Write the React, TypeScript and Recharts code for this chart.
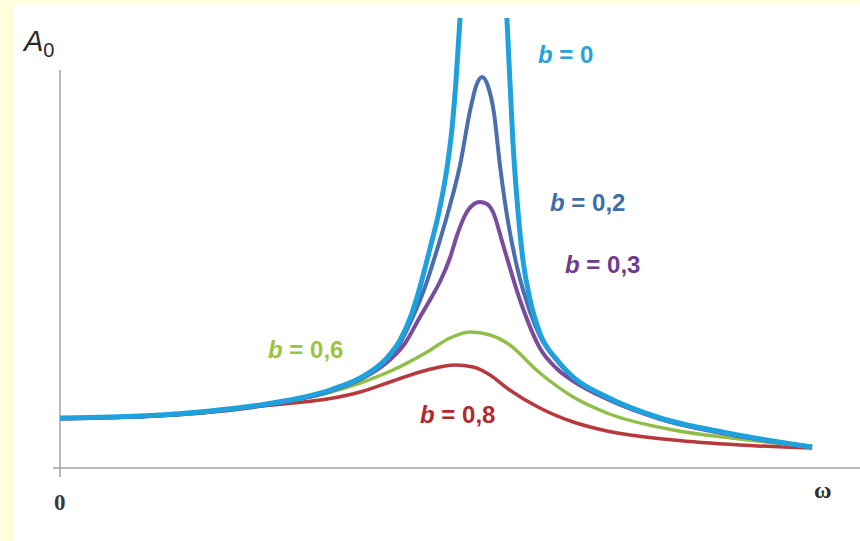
import React from 'react';
import { LineChart, Line, XAxis, YAxis, ReferenceLine } from 'recharts';

// Amplitude A0 against driving frequency ω (ω0 = 1, A0(0) = 1) for several damping values b.
type Pt = { w: number; a: number | null };

const curveB0: Pt[] = [
  { w: 0, a: 1.0 }, { w: 0.118, a: 1.02 }, { w: 0.237, a: 1.06 }, { w: 0.355, a: 1.14 },
  { w: 0.474, a: 1.26 }, { w: 0.569, a: 1.4 }, { w: 0.64, a: 1.56 }, { w: 0.711, a: 1.8 },
  { w: 0.77, a: 2.16 }, { w: 0.806, a: 2.56 }, { w: 0.834, a: 3.1 }, { w: 0.853, a: 3.62 },
  { w: 0.877, a: 4.4 }, { w: 0.9, a: 5.2 }, { w: 0.917, a: 6.0 }, { w: 0.929, a: 6.8 },
  { w: 0.938, a: 7.7 }, { w: 0.948, a: 9.0 },
  { w: 1.0, a: null },
  { w: 1.059, a: 9.0 }, { w: 1.066, a: 7.76 }, { w: 1.073, a: 6.56 }, { w: 1.085, a: 5.16 },
  { w: 1.097, a: 4.16 }, { w: 1.114, a: 3.36 }, { w: 1.137, a: 2.7 }, { w: 1.178, a: 2.16 },
  { w: 1.216, a: 1.82 }, { w: 1.296, a: 1.42 }, { w: 1.422, a: 1.0 }, { w: 1.581, a: 0.7 },
  { w: 1.782, a: 0.42 },
];

const curveB02: Pt[] = [
  { w: 0, a: 0.99 }, { w: 0.237, a: 1.05 }, { w: 0.474, a: 1.25 }, { w: 0.64, a: 1.54 },
  { w: 0.711, a: 1.78 }, { w: 0.77, a: 2.12 }, { w: 0.806, a: 2.5 }, { w: 0.834, a: 2.98 },
  { w: 0.865, a: 3.62 }, { w: 0.9, a: 4.55 }, { w: 0.917, a: 5.04 }, { w: 0.948, a: 6.06 },
  { w: 0.972, a: 7.16 }, { w: 0.986, a: 7.64 }, { w: 1.0, a: 7.82 }, { w: 1.014, a: 7.64 },
  { w: 1.028, a: 7.12 }, { w: 1.043, a: 6.02 }, { w: 1.059, a: 5.06 }, { w: 1.083, a: 4.02 },
  { w: 1.114, a: 3.12 }, { w: 1.137, a: 2.64 }, { w: 1.178, a: 2.14 }, { w: 1.216, a: 1.8 },
  { w: 1.296, a: 1.4 }, { w: 1.422, a: 0.99 }, { w: 1.581, a: 0.69 }, { w: 1.782, a: 0.42 },
];

const curveB03: Pt[] = [
  { w: 0, a: 0.99 }, { w: 0.237, a: 1.05 }, { w: 0.474, a: 1.24 }, { w: 0.569, a: 1.39 },
  { w: 0.64, a: 1.54 }, { w: 0.711, a: 1.77 }, { w: 0.77, a: 2.08 }, { w: 0.818, a: 2.5 },
  { w: 0.853, a: 3.02 }, { w: 0.882, a: 3.44 }, { w: 0.9, a: 3.72 }, { w: 0.924, a: 4.2 },
  { w: 0.941, a: 4.66 }, { w: 0.964, a: 5.12 }, { w: 0.981, a: 5.28 }, { w: 0.995, a: 5.32 },
  { w: 1.012, a: 5.28 }, { w: 1.026, a: 5.12 }, { w: 1.05, a: 4.46 }, { w: 1.09, a: 3.36 },
  { w: 1.137, a: 2.4 }, { w: 1.178, a: 1.98 }, { w: 1.216, a: 1.74 }, { w: 1.296, a: 1.38 },
  { w: 1.422, a: 0.98 }, { w: 1.581, a: 0.68 }, { w: 1.782, a: 0.42 },
];

const curveB06: Pt[] = [
  { w: 0, a: 0.99 }, { w: 0.237, a: 1.05 }, { w: 0.474, a: 1.25 }, { w: 0.569, a: 1.38 },
  { w: 0.633, a: 1.5 }, { w: 0.711, a: 1.7 }, { w: 0.789, a: 1.96 }, { w: 0.87, a: 2.32 },
  { w: 0.924, a: 2.6 }, { w: 0.972, a: 2.72 }, { w: 1.019, a: 2.66 }, { w: 1.059, a: 2.5 },
  { w: 1.137, a: 1.9 }, { w: 1.216, a: 1.42 }, { w: 1.296, a: 1.1 }, { w: 1.453, a: 0.76 },
  { w: 1.611, a: 0.58 }, { w: 1.782, a: 0.42 },
];

const curveB08: Pt[] = [
  { w: 0, a: 0.99 }, { w: 0.237, a: 1.05 }, { w: 0.355, a: 1.13 }, { w: 0.474, a: 1.24 },
  { w: 0.552, a: 1.3 }, { w: 0.633, a: 1.38 }, { w: 0.711, a: 1.52 }, { w: 0.789, a: 1.74 },
  { w: 0.87, a: 1.96 }, { w: 0.936, a: 2.06 }, { w: 0.979, a: 2.02 }, { w: 1.019, a: 1.86 },
  { w: 1.059, a: 1.6 }, { w: 1.137, a: 1.2 }, { w: 1.216, a: 0.92 }, { w: 1.296, a: 0.74 },
  { w: 1.453, a: 0.56 }, { w: 1.611, a: 0.46 }, { w: 1.782, a: 0.4 },
];

const dampingLabels = ['b = 0', 'b = 0,2', 'b = 0,3', 'b = 0,6', 'b = 0,8'];
const axisLabels = { origin: '0', x: 'ω', y: 'A', ySub: '0' };

const COLORS = {
  b0: '#1ea1dd',
  b02: '#4b6fae',
  b03: '#7a4c9d',
  b06: '#8fbf48',
  b08: '#b9383d',
};
const TEXT_COLORS = ['#27a2da', '#3c6ea9', '#6f3b8f', '#9cc53d', '#b5272f'];

const CHART_W = 860;
const CHART_H = 541;

const labelFont = '"Liberation Sans", Arial, sans-serif';

function DampingLabel({ x, y, text, color }: { x: number; y: number; text: string; color: string }) {
  const [b, ...rest] = text.split(' ');
  return (
    <text x={x} y={y} fill={color} fontFamily={labelFont} fontWeight="bold" fontSize={24}>
      <tspan fontStyle="italic">{b}</tspan>
      <tspan> {rest.join(' ')}</tspan>
    </text>
  );
}

export default function App() {
  const lineProps = {
    type: 'monotone' as const,
    dataKey: 'a',
    dot: false,
    activeDot: false,
    isAnimationActive: false,
    connectNulls: false,
  };
  return (
    <div
      style={{
        position: 'absolute',
        left: 0,
        top: 0,
        width: CHART_W,
        height: CHART_H,
        background: '#fffedc',
        overflow: 'hidden',
      }}
    >
      <div style={{ position: 'absolute', left: 13, top: 4, right: 0, bottom: 0, background: '#ffffff' }} />
      <div style={{ position: 'absolute', left: 0, top: 0 }}>
        <LineChart width={CHART_W} height={CHART_H} margin={{ top: 8, right: 0, bottom: 73, left: 60 }}>
          <XAxis type="number" dataKey="w" domain={[0, 1.8957]} hide allowDataOverflow />
          <YAxis type="number" domain={[0, 9.2]} hide allowDataOverflow />
          <ReferenceLine
            segment={[{ x: -0.0166, y: 0 }, { x: 1.8957, y: 0 }]}
            stroke="#a3a3a3"
            strokeWidth={1.5}
            ifOverflow="visible"
          />
          <ReferenceLine
            segment={[{ x: 0, y: -0.18 }, { x: 0, y: 7.96 }]}
            stroke="#a3a3a3"
            strokeWidth={1.5}
            ifOverflow="visible"
          />
          <Line {...lineProps} data={curveB08} stroke={COLORS.b08} strokeWidth={3.5} />
          <Line {...lineProps} data={curveB06} stroke={COLORS.b06} strokeWidth={3.5} />
          <Line {...lineProps} data={curveB03} stroke={COLORS.b03} strokeWidth={4} />
          <Line {...lineProps} data={curveB02} stroke={COLORS.b02} strokeWidth={4} />
          <Line {...lineProps} data={curveB0} stroke={COLORS.b0} strokeWidth={5} />
        </LineChart>
      </div>
      <svg
        width={CHART_W}
        height={CHART_H}
        style={{ position: 'absolute', left: 0, top: 0, pointerEvents: 'none' }}
      >
        <text x={24} y={51} fill="#2a2a2a" fontFamily={labelFont} fontStyle="italic" fontSize={29}>
          {axisLabels.y}
          <tspan fontStyle="normal" fontSize={20} dy={6}>
            {axisLabels.ySub}
          </tspan>
        </text>
        <text x={54} y={510} fill="#3a3a3a" fontFamily='"Liberation Serif", serif' fontWeight="bold" fontSize={23}>
          {axisLabels.origin}
        </text>
        <text x={814} y={498} fill="#2e2e2e" fontFamily='"Liberation Serif", serif' fontWeight="bold" fontSize={24}>
          {axisLabels.x}
        </text>
        <DampingLabel x={538} y={63} text={dampingLabels[0]} color={TEXT_COLORS[0]} />
        <DampingLabel x={550} y={211} text={dampingLabels[1]} color={TEXT_COLORS[1]} />
        <DampingLabel x={565} y={273} text={dampingLabels[2]} color={TEXT_COLORS[2]} />
        <DampingLabel x={268} y={358} text={dampingLabels[3]} color={TEXT_COLORS[3]} />
        <DampingLabel x={420} y={423} text={dampingLabels[4]} color={TEXT_COLORS[4]} />
      </svg>
    </div>
  );
}
